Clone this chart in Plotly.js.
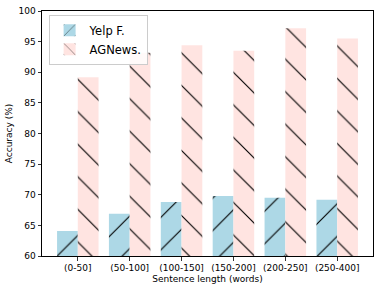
<!DOCTYPE html>
<html>
<head>
<meta charset="utf-8">
<script src="https://cdn.plot.ly/plotly-3.0.1.min.js"></script>
<style>html,body{margin:0;padding:0;background:#fff;}#chart{width:383px;height:291px;}</style>
</head>
<body>
<div id="chart"></div>
<script>
const categories = ["(0-50]", "(50-100]", "(100-150]", "(150-200]", "(200-250]", "(250-400]"];
const yelpValues = [64.1, 66.9, 68.8, 69.8, 69.5, 69.2];
const agnewsValues = [89.2, 93.2, 94.4, 93.5, 97.2, 95.5];
const yTicks = [60, 65, 70, 75, 80, 85, 90, 95, 100];

const traces = [
  {
    type: "bar", name: "Yelp F.", x: categories, y: yelpValues,
    marker: {color: "#ADD8E6", line: {width: 0},
      pattern: {shape: "/", fgcolor: "#000", fgopacity: 1, bgcolor: "#ADD8E6", size: 23, solidity: 0.05, fillmode: "replace"}}
  },
  {
    type: "bar", name: "AGNews.", x: categories, y: agnewsValues,
    marker: {color: "#FFE4E1", line: {width: 0},
      pattern: {shape: "\\", fgcolor: "#000", fgopacity: 1, bgcolor: "#FFE4E1", size: 23, solidity: 0.05, fillmode: "replace"}}
  }
];

const layout = {
  width: 383, height: 291,
  margin: {l: 42, r: 10, t: 11, b: 35},
  paper_bgcolor: "#fff", plot_bgcolor: "#fff",
  font: {family: "DejaVu Sans", size: 9, color: "#000"},
  barmode: "group", bargap: 0.2, bargroupgap: 0,
  showlegend: true,
  legend: {x: 0.02, y: 0.985, xanchor: "left", yanchor: "top",
    bgcolor: "rgba(255,255,255,0.8)", bordercolor: "#ccc", borderwidth: 1,
    font: {size: 11.5, family: "DejaVu Sans"}, tracegroupgap: 2},
  xaxis: {
    type: "category", range: [-0.69, 5.69],
    showline: true, linecolor: "#000", linewidth: 1, mirror: true,
    ticks: "outside", ticklen: 3.5, tickcolor: "#000", tickwidth: 0.8,
    showgrid: false, zeroline: false,
    tickfont: {size: 9},
    title: {text: "Sentence length (words)", font: {size: 9}, standoff: 3}
  },
  yaxis: {
    range: [60, 100], tickvals: yTicks, ticktext: yTicks.map(String),
    showline: true, linecolor: "#000", linewidth: 1, mirror: true,
    ticks: "outside", ticklen: 3.5, tickcolor: "#000", tickwidth: 0.8,
    showgrid: false, zeroline: false,
    tickfont: {size: 9},
    title: {text: "Accuracy (%)", font: {size: 9}, standoff: 4}
  }
};

Plotly.newPlot("chart", traces, layout, {displayModeBar: false, staticPlot: true});
</script>
</body>
</html>
